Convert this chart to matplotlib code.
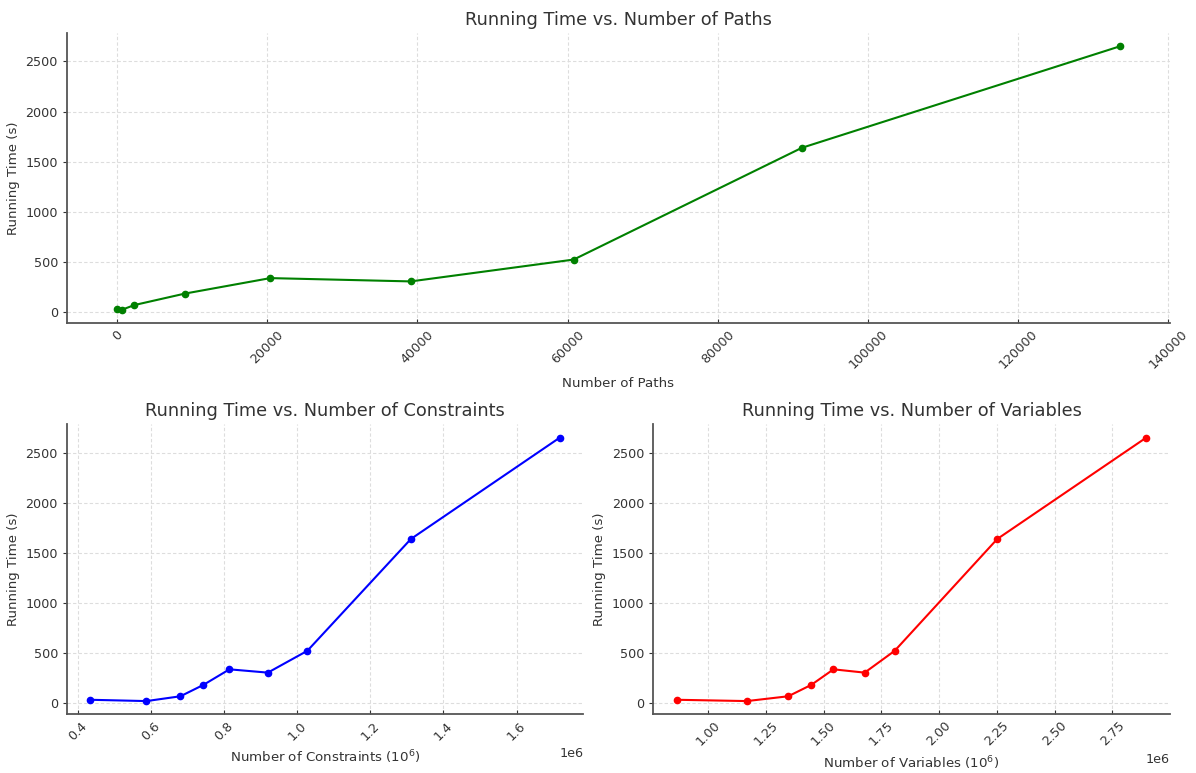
import matplotlib
matplotlib.use('Agg')
from matplotlib import pyplot as plt

# running time (s) per experiment
running_time = [33, 20, 68, 182, 337, 304, 522, 1638, 2650]
num_paths = [0, 600, 2300, 9000, 20400, 39100, 60800, 91200, 133500]
num_constraints = [0.435e6, 0.588e6, 0.681e6, 0.744e6, 0.815e6, 0.920e6, 1.028e6, 1.311e6, 1.718e6]
num_variables = [0.865e6, 1.168e6, 1.347e6, 1.447e6, 1.543e6, 1.678e6, 1.808e6, 2.252e6, 2.897e6]

plt.rcParams.update({
    'font.family': 'DejaVu Sans',
    'text.color': '#333333',
    'axes.labelcolor': '#333333',
    'axes.edgecolor': '#555555',
    'axes.linewidth': 1.3,
    'xtick.color': '#333333',
    'ytick.color': '#333333',
    'xtick.labelsize': 9.2,
    'ytick.labelsize': 9.2,
    'xtick.direction': 'in',
    'xtick.major.size': 3,
    'ytick.major.size': 3,
    'axes.spines.top': False,
    'axes.spines.right': False,
})

def plot_panel(ax, x, y, color, title, xlabel):
    ax.plot(x, y, marker='o', color=color, markersize=4.5, linewidth=1.5)
    ax.set_title(title, fontsize=12.8, color='#333333')
    ax.set_xlabel(xlabel, fontsize=9.6)
    ax.set_ylabel('Running Time (s)', fontsize=9.6)
    ax.grid(True, linestyle=(0, (3, 2)), color='#dddddd', linewidth=0.8)
    ax.tick_params(axis='x', labelrotation=45)
    ax.set_yticks([0, 500, 1000, 1500, 2000, 2500])

fig = plt.figure(figsize=(11.96, 7.73), dpi=100)
plt.subplots_adjust(left=0.056, right=0.978, top=0.957, bottom=0.076,
                    hspace=0.35, wspace=0.136)

ax1 = plt.subplot(2, 1, 1)
plot_panel(ax1, num_paths, running_time, 'green',
           'Running Time vs. Number of Paths', 'Number of Paths')
ax1.set_xticks(range(0, 140001, 20000))

ax2 = plt.subplot(2, 2, 3)
plot_panel(ax2, num_constraints, running_time, 'blue',
           'Running Time vs. Number of Constraints', 'Number of Constraints ($10^6$)')

ax3 = plt.subplot(2, 2, 4)
plot_panel(ax3, num_variables, running_time, 'red',
           'Running Time vs. Number of Variables', 'Number of Variables ($10^6$)')

plt.savefig('out.png', dpi=100)
